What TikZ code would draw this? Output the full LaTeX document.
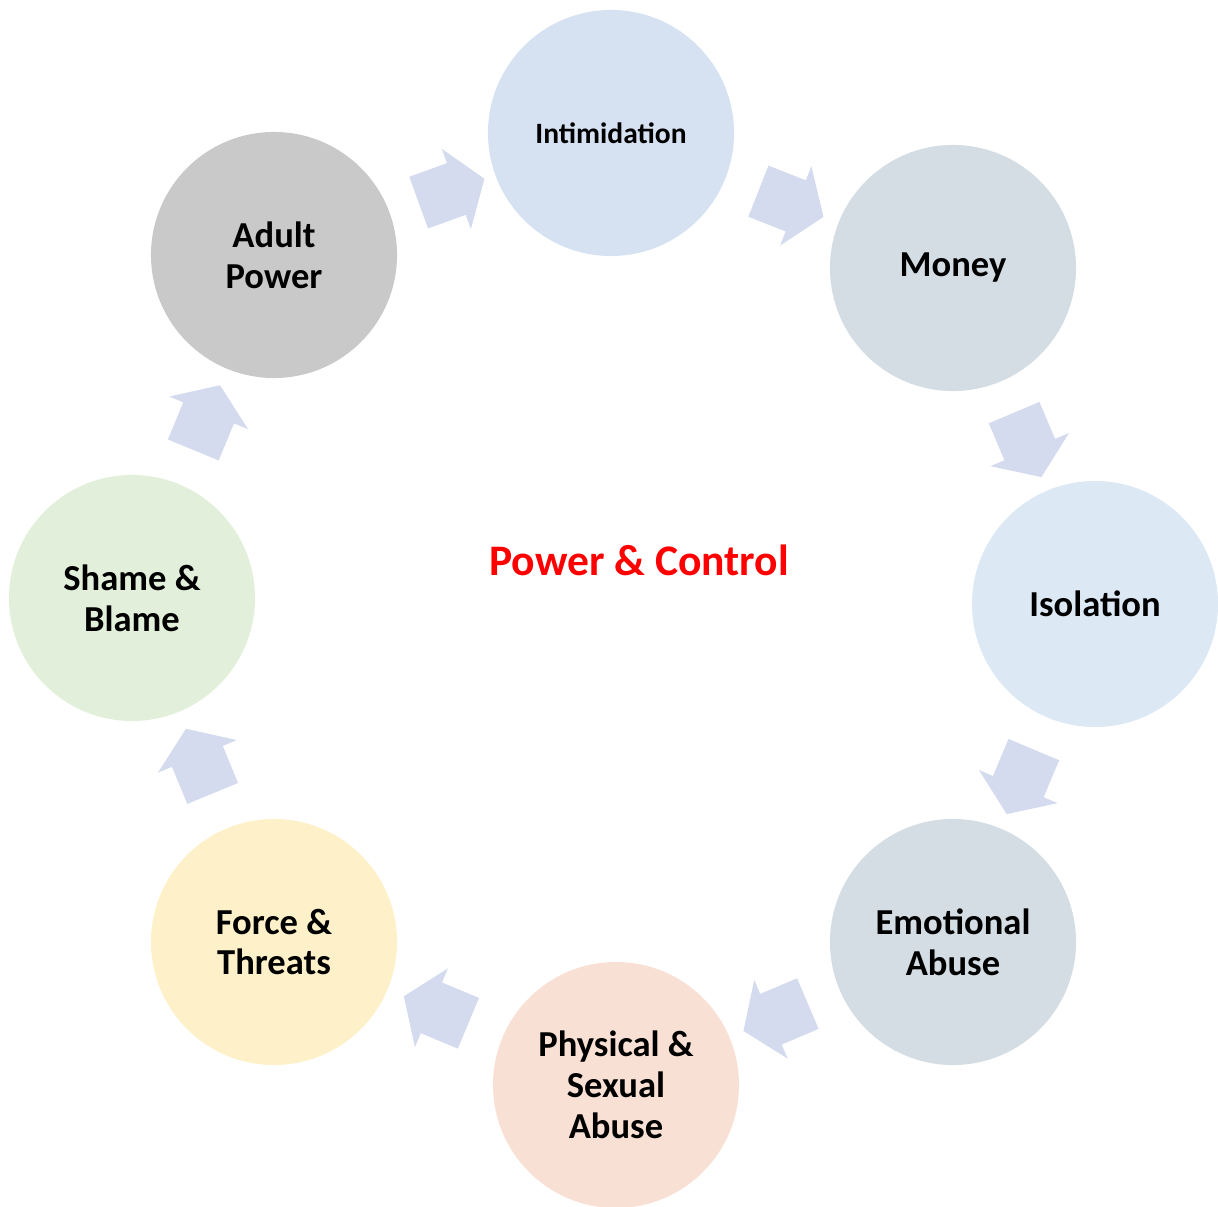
\documentclass[tikz,border=0pt]{standalone}
\usepackage{fontspec}
\setmainfont{Carlito}
\usetikzlibrary{shapes.arrows}

\definecolor{intimfill}{HTML}{D6E1F2}
\definecolor{moneyfill}{HTML}{D3DDE3}
\definecolor{isolfill}{HTML}{DCE9F5}
\definecolor{emotfill}{HTML}{D3DDE3}
\definecolor{physfill}{HTML}{F9E0D4}
\definecolor{forcefill}{HTML}{FEF0C8}
\definecolor{shamefill}{HTML}{E2EFDA}
\definecolor{adultfill}{HTML}{C9C9C9}
\definecolor{arrowfill}{HTML}{D4DBEE}

\begin{document}
\begin{tikzpicture}[
x=0.025cm, y=-0.025cm,
tactic/.style={circle, draw=none, minimum size=6.15cm, inner sep=0pt, align=center,
  font=\bfseries\fontsize{26}{29}\selectfont},
cyclearrow/.style={single arrow, draw=none, fill=arrowfill, inner xsep=0pt, inner ysep=0.68cm,
  minimum height=1.75cm, single arrow head extend=0.38cm,
  single arrow tip angle=110, sloped, allow upside down}
]
\useasboundingbox (0,0) rectangle (1218,1207);

\node[tactic, fill=intimfill, font=\bfseries\fontsize{21}{25}\selectfont](intim) at (611,133){Intimidation};
\node[tactic, fill=moneyfill](money) at (953,268){Money};
\node[tactic, fill=isolfill](isol) at (1095,604){Isolation};
\node[tactic, fill=emotfill](emot) at (953,942){Emotional\\Abuse};
\node[tactic, fill=physfill](phys) at (616,1085){Physical \&\\Sexual\\Abuse};
\node[tactic, fill=forcefill](force) at (274,942){Force \&\\Threats};
\node[tactic, fill=shamefill](shame) at (132,598){Shame \&\\Blame};
\node[tactic, fill=adultfill](adult) at (274,255){Adult\\Power};

\node[text=red, font=\bfseries\fontsize{31}{36}\selectfont](center) at (639,560){Power \& Control};

% arrows going round clockwise
\path (adult) -- node[cyclearrow]{} (intim);
\path (intim) -- node[cyclearrow]{} (money);
\path (money) -- node[cyclearrow]{} (isol);
\path (isol) -- node[cyclearrow]{} (emot);
\path (emot) -- node[cyclearrow]{} (phys);
\path (phys) -- node[cyclearrow]{} (force);
\path (force) -- node[cyclearrow]{} (shame);
\path (shame) -- node[cyclearrow]{} (adult);
\end{tikzpicture}
\end{document}
